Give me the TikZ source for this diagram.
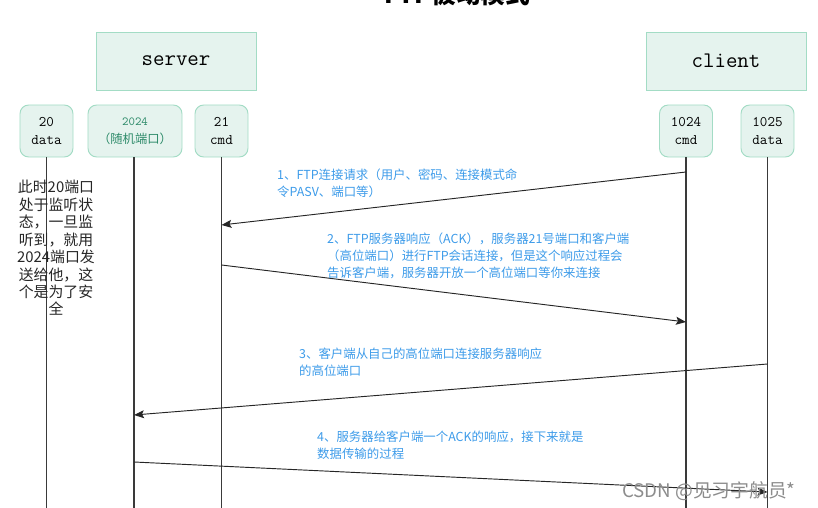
\documentclass[tikz,border=0pt]{standalone}
\usepackage{fontspec}
\usepackage{xcolor}
\usepackage{tikz}
\usetikzlibrary{positioning,arrows.meta}
\newfontfamily\cjk{Noto Sans CJK SC}
\definecolor{mint}{HTML}{E5F3EE}
\definecolor{mintline}{HTML}{A3DCC5}
\definecolor{tipblue}{HTML}{3D9BE9}
\definecolor{portgreen}{HTML}{2E8B6A}
\definecolor{lifegray}{HTML}{3A3A3A}

\begin{document}
\begin{tikzpicture}[x=0.03cm,y=-0.03cm,
    host/.style={draw=mintline,fill=mint,line width=0.8pt,minimum width=4.8cm,minimum height=1.74cm,font=\fontsize{19}{22}\selectfont\ttfamily},
    port/.style={draw=mintline,fill=mint,line width=0.8pt,rounded corners=0.26cm,minimum width=1.59cm,minimum height=1.56cm,align=center,font=\fontsize{12.5}{15.3}\selectfont\ttfamily},
    life/.style={draw=lifegray,line width=1.2pt},
    msg/.style={draw=black!85,line width=0.8pt,-{Stealth[length=3mm,width=2.4mm,inset=0.6mm]}},
    tip/.style={anchor=north west,align=left,text=tipblue,inner sep=0pt,font=\cjk\fontsize{10.6}{14.5}\selectfont}]
    \useasboundingbox (0,0) rectangle (818,508);
    \node[anchor=base,font=\cjk\bfseries\fontsize{21}{24}\selectfont] (title) at (457,4) {FTP被动模式};

    \node[host] (server) at (176,61) {server};
    \node[host] (client) at (726,61) {client};

    \node[port] (p20) at (46.5,131) {20\\data};
    \node[port,minimum width=2.82cm,text=portgreen,font=\cjk\fontsize{10.5}{15.3}\selectfont] (p2024) at (135,131) {\ttfamily 2024\\（随机端口）};
    \node[port] (p21) at (221.5,131) {21\\cmd};
    \node[port] (p1024) at (686,131) {1024\\cmd};
    \node[port] (p1025) at (767.5,131) {1025\\data};

    \coordinate (e20) at (46.5,508);
    \coordinate (e2024) at (134,508);
    \coordinate (e21) at (221.5,508);
    \coordinate (e1024) at (686,508);
    \coordinate (e1025) at (767.5,508);
    \draw[life] (p20) -- (e20);
    \draw[life] (p2024.south -| e2024) -- (e2024);
    \draw[life] (p21) -- (e21);
    \draw[life] (p1024) -- (e1024);
    \draw[life] (p1025) -- (e1025);

    \node[align=center,inner sep=0pt,text=black!85,font=\cjk\fontsize{12.7}{14.9}\selectfont] (note) at (56,248)
      {此时20端口\\处于监听状\\态，一旦监\\听到，就用\\2024端口发\\送给他，这\\个是为了安\\全};

    \coordinate (a1) at (686,172);
    \coordinate (b1) at (221.5,225);
    \draw[msg] (a1) -- (b1);
    \node[tip] (t1) at (277,169) {1、FTP连接请求（用户、密码、连接模式命\\令PASV、端口等）};

    \coordinate (a2) at (221.5,265);
    \coordinate (b2) at (686,322);
    \draw[msg] (a2) -- (b2);
    \node[tip] (t2) at (327,233) {2、FTP服务器响应（ACK），服务器21号端口和客户端\\（高位端口）进行FTP会话连接，但是这个响应过程会\\告诉客户端，服务器开放一个高位端口等你来连接};

    \coordinate (a3) at (767.5,364);
    \coordinate (b3) at (134,415);
    \draw[msg] (a3) -- (b3);
    \node[tip] (t3) at (299,348) {3、客户端从自己的高位端口连接服务器响应\\的高位端口};

    \coordinate (a4) at (134,462);
    \coordinate (b4) at (767.5,492);
    \draw[msg] (a4) -- (b4);
    \node[tip] (t4) at (317,431) {4、服务器给客户端一个ACK的响应，接下来就是\\数据传输的过程};

    \node[anchor=base west,inner sep=0pt,text=black!45,font=\cjk\fontsize{16}{18}\selectfont] (mark) at (622,497) {CSDN @见习宇航员*};
  \end{tikzpicture}
\end{document}
